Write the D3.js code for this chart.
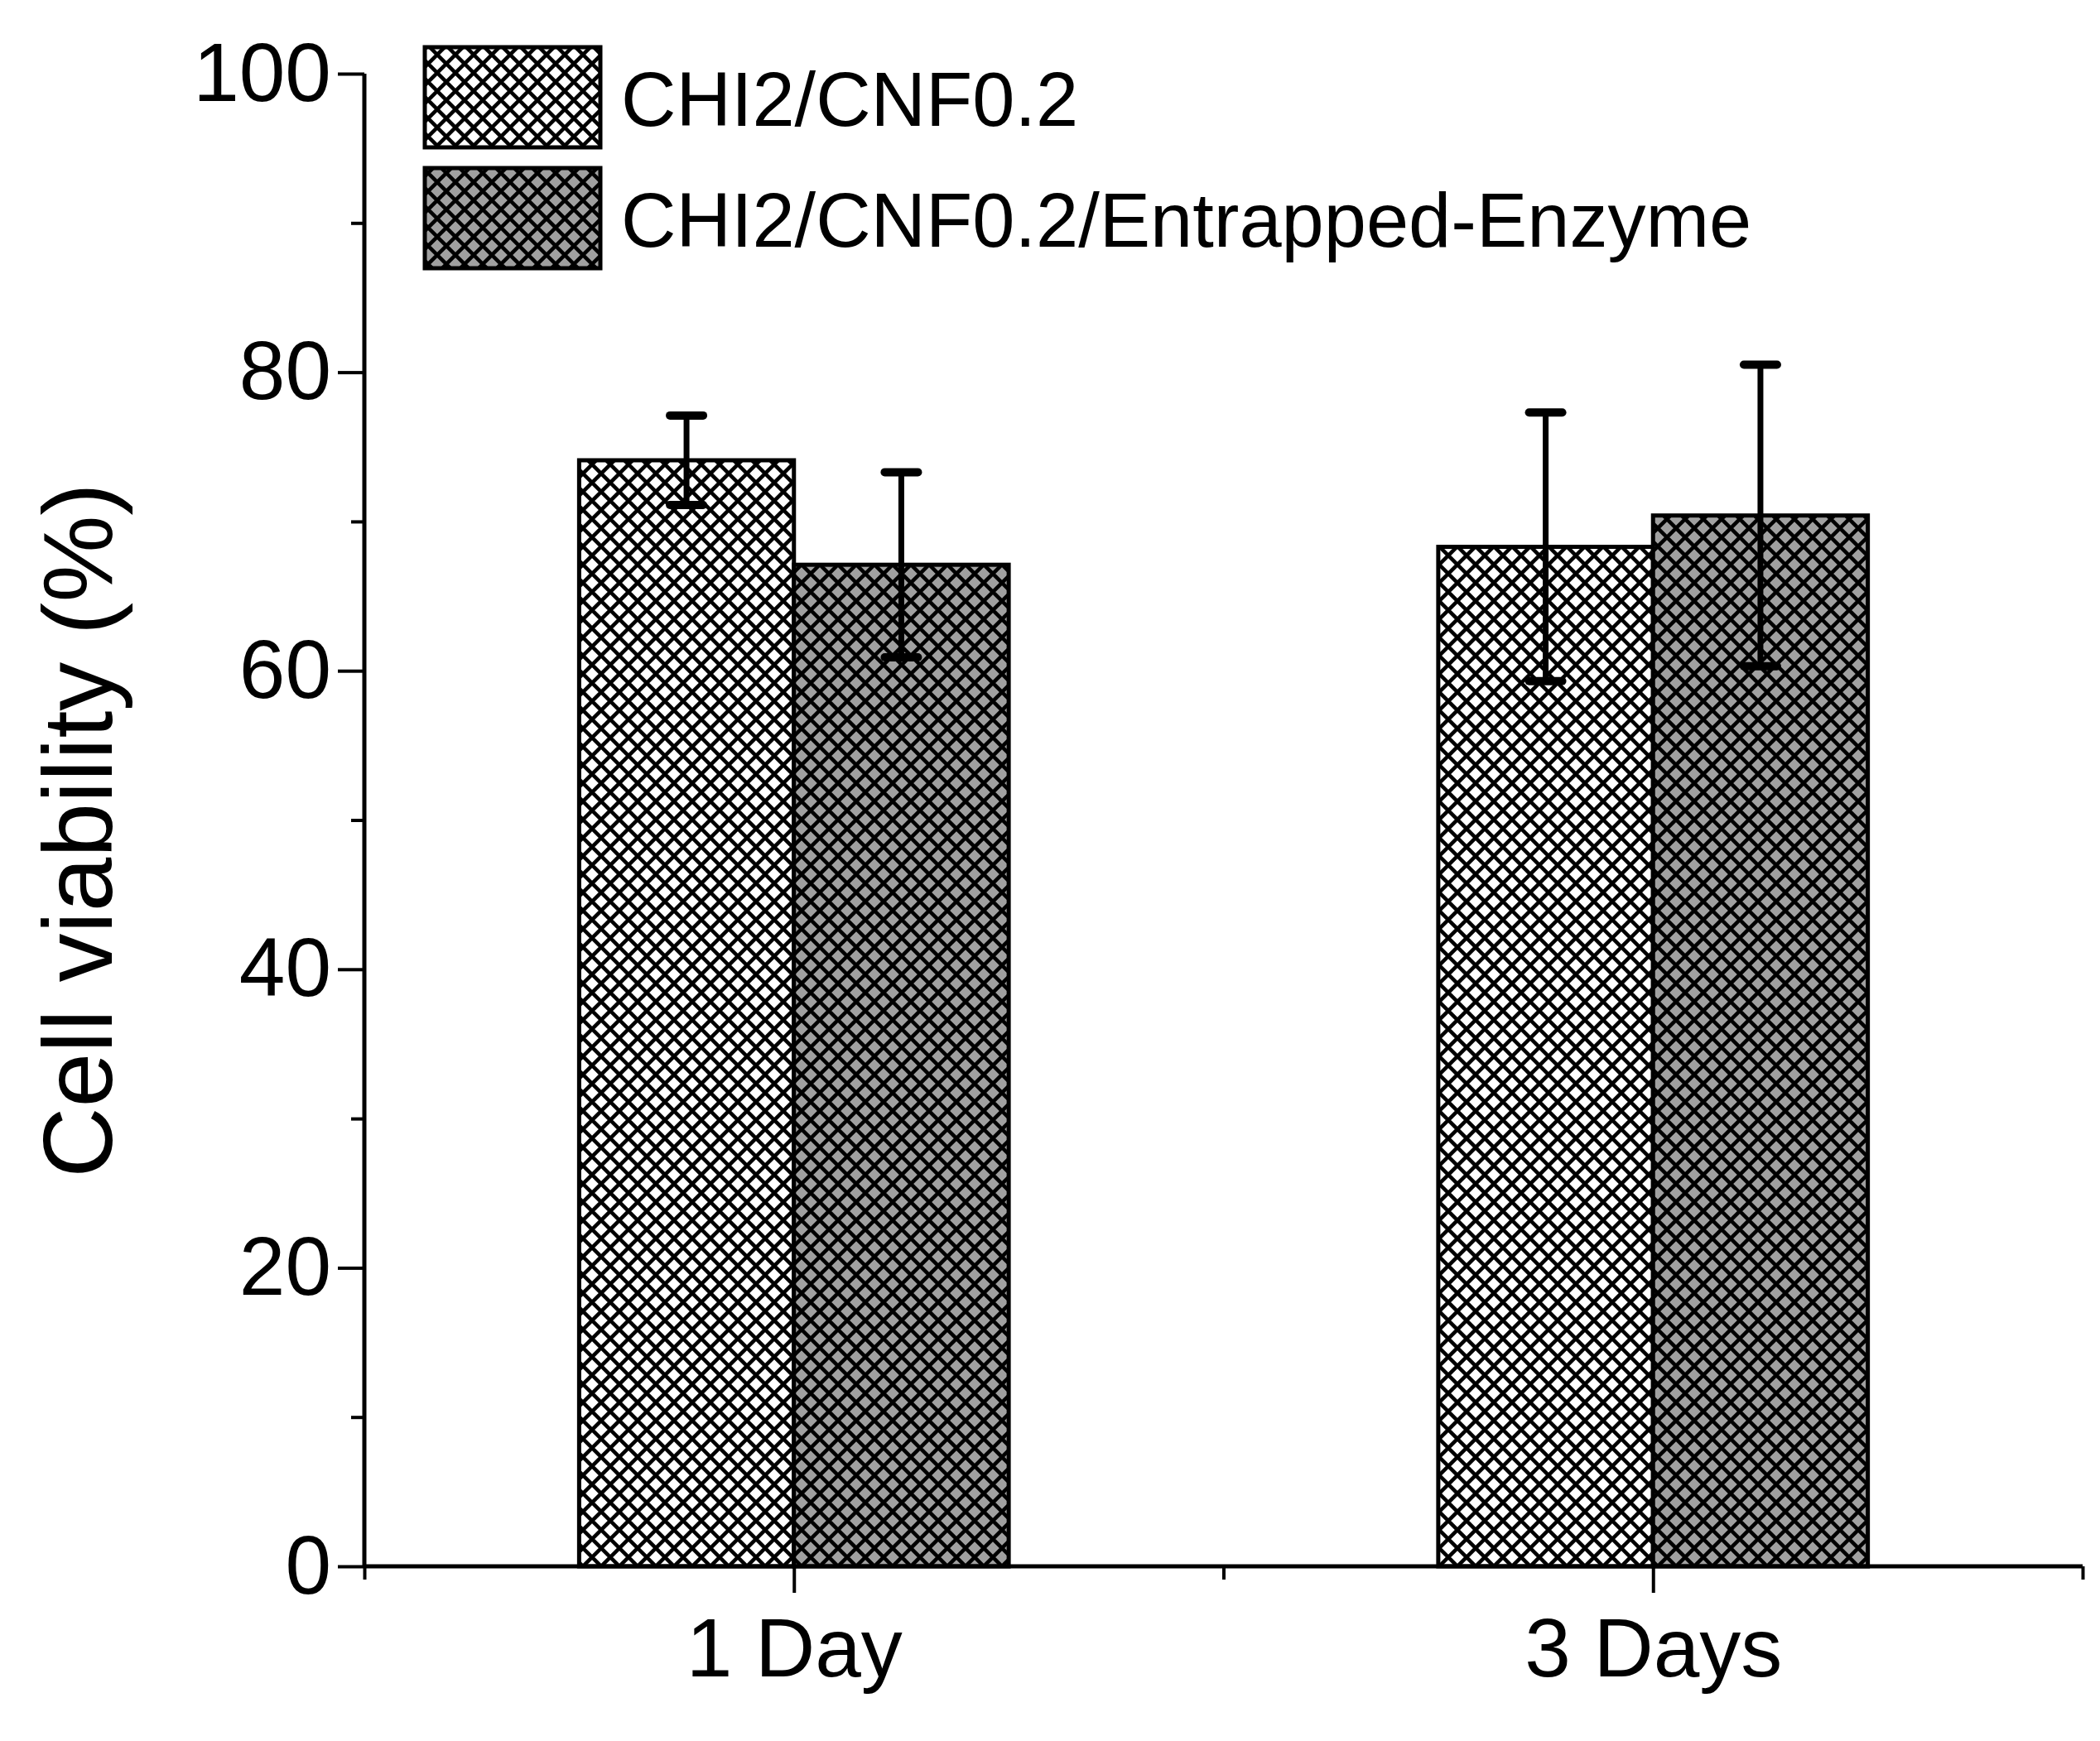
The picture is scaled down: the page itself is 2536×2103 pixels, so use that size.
<!DOCTYPE html><html><head><script src="https://cdn.jsdelivr.net/npm/d3@7"></script>
<style>body{margin:0;background:#fff}</style></head><body><svg id="c" width="2536" height="2103"></svg>
<script>
const categories=["1 Day","3 Days"];
const catPos=[1,3];
const seriesNames=["CHI2/CNF0.2","CHI2/CNF0.2/Entrapped-Enzyme"];
const values1=[74.1,68.3];
const err1=[3.0,9.0];
const values2=[67.1,70.4];
const err2=[6.2,10.1];
const yTicks=[0,20,40,60,80,100];
const fills=["#ffffff","#a0a0a0"];
const F="'Liberation Sans Narrow','Arial Narrow','Liberation Sans',Arial,sans-serif";
const svg=d3.select("#c");
const defs=svg.append("defs");
fills.forEach((f,i)=>{const p=defs.append("pattern").attr("id","h"+i).attr("patternUnits","userSpaceOnUse").attr("width",22).attr("height",22);
 p.append("rect").attr("width",22).attr("height",22).attr("fill",f);
 p.append("path").attr("d","M-2,-2L24,24M-2,20L2,24M20,-2L24,2M24,-2L-2,24M-2,2L2,-2M20,24L24,20").attr("stroke","#000").attr("stroke-width",4.5);});
const x=d3.scaleLinear().domain([0,4]).range([440,2515]);
const y=d3.scaleLinear().domain([0,100]).range([1892,89]);
const bw=x(1)-x(0.5);
const g=svg.append("g");
const series=[[values1,err1],[values2,err2]];
series.forEach(([v,e],s)=>{
 v.forEach((val,i)=>{
  const x0=s===0?x(catPos[i])-bw:x(catPos[i]);
  g.append("rect").attr("x",x0).attr("y",y(val)).attr("width",bw).attr("height",y(0)-y(val)).attr("fill","url(#h"+s+")").attr("stroke","#000").attr("stroke-width",5);
 });
});
series.forEach(([v,e],s)=>{
 v.forEach((val,i)=>{
  const cx=(s===0?x(catPos[i])-bw:x(catPos[i]))+bw/2;
  g.append("line").attr("x1",cx).attr("x2",cx).attr("y1",y(val+e[i])).attr("y2",y(val-e[i])).attr("stroke","#000").attr("stroke-width",7);
  [val+e[i],val-e[i]].forEach(t=>g.append("line").attr("x1",cx-20).attr("x2",cx+20).attr("y1",y(t)).attr("y2",y(t)).attr("stroke","#000").attr("stroke-width",10).attr("stroke-linecap","round"));
 });
});
// y axis
const ya=svg.append("g").attr("transform","translate(440,0)").call(d3.axisLeft(y).tickValues(yTicks).tickSize(32).tickPadding(8));
svg.append("g").attr("transform","translate(440,0)").call(d3.axisLeft(y).tickValues([10,30,50,70,90]).tickSize(16).tickFormat(""));
// x axis
const xa=svg.append("g").attr("transform","translate(0,1892)").call(d3.axisBottom(x).tickValues(catPos).tickSize(32).tickPadding(30).tickFormat((d,i)=>categories[i]));
svg.append("g").attr("transform","translate(0,1892)").call(d3.axisBottom(x).tickValues([0,2,4]).tickSize(16).tickFormat(""));
svg.selectAll(".domain").attr("stroke-width",5).attr("stroke","#000");
svg.selectAll(".tick line").attr("stroke-width",4).attr("stroke","#000");
svg.selectAll(".tick text").attr("font-family",F).attr("font-size",100).attr("fill","#000");
svg.selectAll("path.domain").attr("d",function(){return d3.select(this).attr("d").replace(/^M[^V H]*[VH]?/,m=>m);});
// remove outer ticks of domain path
ya.select(".domain").attr("d","M0,89V1892");
xa.select(".domain").attr("d","M440,0H2515");
svg.selectAll("g").filter(function(){return d3.select(this).select(".domain").size()&&!this.__keep}).each(function(){});
svg.selectAll(".domain").filter((d,i)=>i===1||i===3).remove();
svg.append("text").attr("transform","translate(135,1003) rotate(-90)").attr("text-anchor","middle").attr("font-family","'Liberation Sans',Arial,sans-serif").attr("font-size",118).text("Cell viability (%)");
// legend
seriesNames.forEach((n,i)=>{
 const ly=57+i*146;
 svg.append("rect").attr("x",513).attr("y",ly).attr("width",212).attr("height",121).attr("fill","url(#h"+i+")").attr("stroke","#000").attr("stroke-width",5);
 svg.append("text").attr("x",750).attr("y",ly+95).attr("font-family",F).attr("font-size",92).text(n);
});
</script></body></html>
